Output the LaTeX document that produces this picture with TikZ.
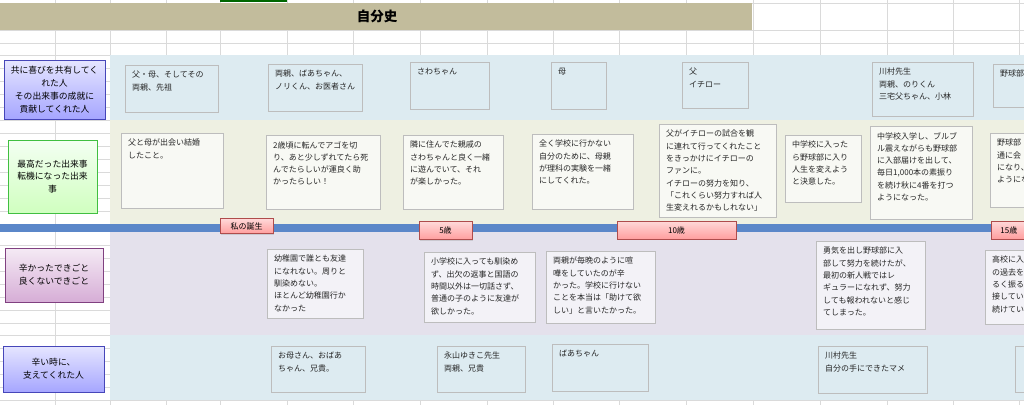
\documentclass[tikz,border=0pt]{standalone}
\usepackage{fontspec}
\setmainfont{Noto Sans CJK JP}
\usetikzlibrary{shadows}
\definecolor{tan}{HTML}{C2BC9C}
\definecolor{bandA}{HTML}{DDEBF1}
\definecolor{bandB}{HTML}{EEF0E2}
\definecolor{bandC}{HTML}{E4E1EC}
\definecolor{tline}{HTML}{5B87C9}
\definecolor{gridc}{HTML}{DADADA}
\definecolor{boxb}{HTML}{BDBDBD}
\definecolor{wB}{HTML}{F8F9F4}
\definecolor{wC}{HTML}{F3F2F7}
\tikzset{
  box/.style={draw=boxb,line width=0.8pt,rectangle,inner sep=0pt,anchor=north west},
  txt/.style={anchor=north west,inner sep=0pt,align=left,font=\fontsize{8}{12.3}\selectfont,text=black!85},
  lab/.style={rectangle,inner sep=0pt,align=center,font=\fontsize{8.8}{12.8}\selectfont,line width=0.8pt,drop shadow={opacity=0.25,shadow xshift=1pt,shadow yshift=-1pt}},
  mk/.style={rectangle,inner sep=0pt,align=center,font=\fontsize{8}{10}\selectfont,draw=red!55!black!70,top color=red!15,bottom color=red!38,line width=0.6pt,drop shadow={opacity=0.25,shadow xshift=1pt,shadow yshift=-1pt}}
}
\newcommand\bx[7]{%
  \node[box,fill=#6,minimum width={(#4-#2)*1pt},minimum height={(#5-#3)*1pt}] (#1) at (#2,#3) {};
  \node[txt] (#1t) at (#2+7,#3+6) {#7};}
\begin{document}
\begin{tikzpicture}[x=1pt,y=-1pt]
\useasboundingbox (0,0) rectangle (1024,405);
\clip (0,0) rectangle (1024,405);
\fill[white] (0,0) rectangle (1024,405);
% grid
\foreach \x in {55,110,166,220,287,353,420,487,553,619,686,753,820,887,953,1019} \draw[gridc,line width=0.6pt] (\x,0) -- (\x,405);
\foreach \y in {3,30,43,55,68,81,94,107,120,133,146,159,172,185,198,211,224,245,258,271,284,297,310,323,335,348,361,374,387,400} \draw[gridc,line width=0.6pt] (0,\y) -- (1024,\y);
% title
\fill[tan] (0,3) rectangle (752,30);
\fill[green!40!black] (220,0) rectangle (287,2);
\node[font=\fontsize{13.5}{15}\selectfont\bfseries] (title) at (377,16.5) {自分史};
% bands
\fill[bandA] (110,55) rectangle (1024,120);
\fill[bandB] (110,120) rectangle (1024,224);
\fill[bandC] (110,232) rectangle (1024,335);
\fill[bandA] (110,335) rectangle (1024,400);
\fill[tline] (0,224) rectangle (1024,232);
% labels
\node[lab,draw=blue!45!gray,top color=blue!10,bottom color=blue!35,minimum width=101pt,minimum height=59pt] (l1) at (54.5,89.5) {共に喜びを共有してく\\れた人\\その出来事の成就に\\貢献してくれた人};
\node[lab,draw=green!50!gray,top color=yellow!8!green!5,bottom color=lime!35!green!25,minimum width=89pt,minimum height=73pt] (l2) at (52.5,176.5) {最高だった出来事\\転機になった出来\\事};
\node[lab,draw=violet!50!gray,top color=violet!8,bottom color=violet!32,minimum width=98pt,minimum height=54pt] (l3) at (54,275) {辛かったできごと\\良くないできごと};
\node[lab,draw=blue!45!gray,top color=blue!10,bottom color=blue!35,minimum width=101pt,minimum height=46pt] (l4) at (53.5,369) {辛い時に、\\支えてくれた人};
% row1
\bx{a1}{125}{65}{218}{112}{bandA}{父・母、そしてその\\両親、先祖}
\bx{a2}{268}{64}{362}{111}{bandA}{両親、ばあちゃん、\\ノリくん、お医者さん}
\bx{a3}{410}{62}{489}{109}{bandA}{さわちゃん}
\bx{a4}{551}{62}{606}{109}{bandA}{母}
\bx{a5}{682}{62}{748}{108}{bandA}{父\\イチロー}
\bx{a6}{872}{62}{973}{116}{bandA}{川村先生\\両親、のりくん\\三宅父ちゃん、小林}
\bx{a7}{993}{64}{1030}{107}{bandA}{野球部}
% row2
\bx{b1}{121}{133}{223}{208}{wB}{父と母が出会い結婚\\したこと。}
\bx{b2}{266}{135}{380}{209}{wB}{2歳頃に転んでアゴを切\\り、あと少しずれてたら死\\んでたらしいが運良く助\\かったらしい！}
\bx{b3}{403}{135}{503}{209}{wB}{隣に住んでた親戚の\\さわちゃんと良く一緒\\に遊んでいて、それ\\が楽しかった。}
\bx{b4}{532}{134}{633}{209}{wB}{全く学校に行かない\\自分のために、母親\\が理科の実験を一緒\\にしてくれた。}
\bx{b5}{659}{124}{776}{217}{wB}{父がイチローの試合を観\\に連れて行ってくれたこと\\をきっかけにイチローの\\ファンに。\\イチローの努力を知り、\\「これくらい努力すれば人\\生変えれるかもしれない」}
\bx{b6}{785}{135}{861}{202}{wB}{中学校に入った\\ら野球部に入り\\人生を変えよう\\と決意した。}
\bx{b7}{870}{126}{972}{219}{wB}{中学校入学し、ブルブ\\ル震えながらも野球部\\に入部届けを出して、\\毎日1,000本の素振り\\を続け秋に4番を打つ\\ようになった。}
\bx{b8}{990}{133}{1030}{207}{wB}{野球部\\通に会\\になり、\\ようにな}
% markers
\node[mk,minimum width=53pt,minimum height=15pt] (m1) at (246.5,226) {私の誕生};
\node[mk,minimum width=53pt,minimum height=18pt] (m2) at (445.5,230.5) {5歳};
\node[mk,minimum width=119pt,minimum height=18pt] (m3) at (676.5,230) {10歳};
\node[mk,minimum width=60pt,minimum height=18pt,anchor=west] (m4) at (991,230) {\hspace*{-25pt}15歳};
% row3
\bx{c1}{267}{249}{363}{318}{wC}{幼稚園で誰とも友達\\になれない。周りと\\馴染めない。\\ほとんど幼稚園行か\\なかった}
\bx{c2}{424}{252}{535}{322}{wC}{小学校に入っても馴染め\\ず、出欠の返事と国語の\\時間以外は一切話さず、\\普通の子のように友達が\\欲しかった。}
\bx{c3}{546}{251}{655}{323}{wC}{両親が毎晩のように喧\\嘩をしていたのが辛\\かった。学校に行けない\\ことを本当は「助けて欲\\しい」と言いたかった。}
\bx{c4}{816}{241}{925}{329}{wC}{勇気を出し野球部に入\\部して努力を続けたが、\\最初の新人戦ではレ\\ギュラーになれず、努力\\しても報われないと感じ\\てしまった。}
\bx{c5}{985}{250}{1030}{324}{wC}{高校に入\\の過去を\\るく振る\\接してい\\続けてい}
% row4
\bx{d1}{271}{346}{365}{392}{bandA}{お母さん、おばあ\\ちゃん、兄貴。}
\bx{d2}{437}{346}{525}{392}{bandA}{永山ゆきこ先生\\両親、兄貴}
\bx{d3}{552}{344}{648}{391}{bandA}{ばあちゃん}
\bx{d4}{818}{346}{927}{393}{bandA}{川村先生\\自分の手にできたマメ}
\bx{d5}{1015}{346}{1040}{392}{bandA}{}
\end{tikzpicture}
\end{document}
